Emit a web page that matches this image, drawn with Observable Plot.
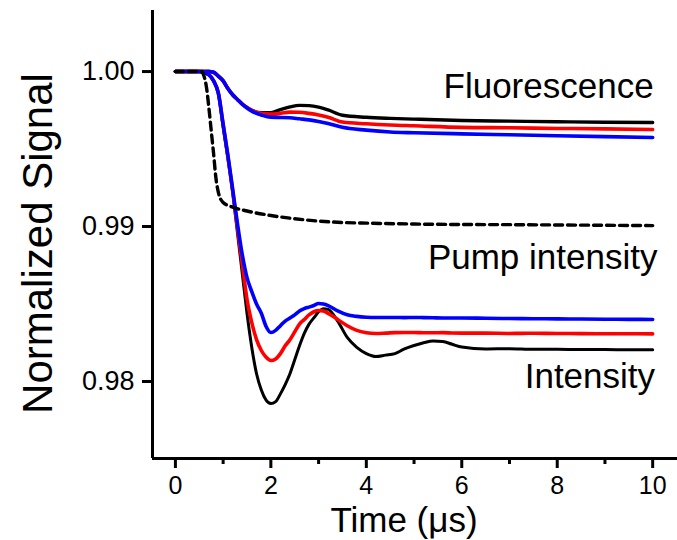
<!DOCTYPE html>
<html>
<head>
<meta charset="utf-8">
<script src="https://cdn.jsdelivr.net/npm/d3@7"></script>
<script src="https://cdn.jsdelivr.net/npm/@observablehq/plot@0.6"></script>
<style>
  html, body { margin: 0; padding: 0; background: #fff; }
  #chart svg { display: block; }
</style>
</head>
<body>
<div id="chart"></div>
<script>
// ---- Intensity traces (shared time grid, µs) ----
const intensityTime = [0, 0.5, 0.7, 0.8, 0.9, 1.0, 1.1, 1.2, 1.3, 1.4, 1.5, 1.6, 1.7, 1.8, 1.9, 2.0, 2.1, 2.2, 2.3, 2.4, 2.5, 2.6, 2.7, 2.8, 2.9, 3.0, 3.1, 3.2, 3.4, 3.6, 3.8, 4.0, 4.2, 4.4, 4.6, 4.8, 5.0, 5.2, 5.4, 5.6, 5.8, 6.0, 6.5, 7.0, 7.5, 8.0, 8.5, 9.0, 9.5, 10.0];
const intensityBlack = [1.0, 1.0, 0.9998, 0.9994, 0.9986, 0.9964, 0.9944, 0.9922, 0.9896, 0.9870, 0.9844, 0.9822, 0.9805, 0.97945, 0.9788, 0.97858, 0.9787, 0.9792, 0.9798, 0.9805, 0.9814, 0.9823, 0.9831, 0.9837, 0.9841, 0.9845, 0.9847, 0.98465, 0.9839, 0.98284, 0.9822, 0.9818, 0.98161, 0.9817, 0.9818, 0.9821, 0.98232, 0.9825, 0.98262, 0.98258, 0.9824, 0.98222, 0.9821, 0.98212, 0.98208, 0.98208, 0.98206, 0.98206, 0.98205, 0.98205];
const intensityRed = [1.0, 1.0, 0.9998, 0.9994, 0.9986, 0.9966, 0.9945, 0.9923, 0.9899, 0.9876, 0.9853, 0.9838, 0.9827, 0.9820, 0.98157, 0.98135, 0.98145, 0.9818, 0.9823, 0.9827, 0.9832, 0.9837, 0.9840, 0.9843, 0.9845, 0.98458, 0.98455, 0.9844, 0.9840, 0.9836, 0.9833, 0.98315, 0.9831, 0.98312, 0.98315, 0.98316, 0.98316, 0.98314, 0.98314, 0.98315, 0.98313, 0.98312, 0.98312, 0.9831, 0.98311, 0.9831, 0.98309, 0.98308, 0.98308, 0.98307];
const intensityBlue = [1.0, 1.0, 0.9998, 0.9994, 0.9986, 0.9966, 0.9946, 0.9924, 0.9902, 0.9882, 0.9867, 0.9858, 0.9850, 0.9844, 0.98355, 0.98316, 0.9833, 0.9836, 0.9839, 0.9841, 0.9843, 0.98455, 0.9847, 0.9848, 0.9849, 0.98503, 0.985, 0.9849, 0.98455, 0.9843, 0.9842, 0.98415, 0.98413, 0.98413, 0.98413, 0.98412, 0.98413, 0.98412, 0.98411, 0.9841, 0.9841, 0.9841, 0.98408, 0.98406, 0.98405, 0.98404, 0.98403, 0.98402, 0.98401, 0.984];

// ---- Fluorescence traces ----
const fluorTime = [0, 0.6, 0.7, 0.8, 0.9, 1.0, 1.1, 1.2, 1.3, 1.4, 1.5, 1.6, 1.8, 2.0, 2.2, 2.4, 2.6, 2.8, 3.0, 3.2, 3.5, 4.0, 4.5, 5.0, 6.0, 7.0, 8.0, 9.0, 10.0];
const fluorBlack = [1.0, 1.0, 1.0, 0.99995, 0.9997, 0.9994, 0.9989, 0.9985, 0.9982, 0.9979, 0.99768, 0.9975, 0.99735, 0.99735, 0.99755, 0.99772, 0.99782, 0.9978, 0.9977, 0.99752, 0.99718, 0.99705, 0.99698, 0.99693, 0.99684, 0.9968, 0.99676, 0.99673, 0.99671];
const fluorRed = [1.0, 1.0, 1.0, 0.99995, 0.9997, 0.9994, 0.9989, 0.9985, 0.9982, 0.9979, 0.99768, 0.9975, 0.9973, 0.99725, 0.9973, 0.99738, 0.99737, 0.9973, 0.9972, 0.99705, 0.99674, 0.99663, 0.99655, 0.9965, 0.9964, 0.99637, 0.99633, 0.9963, 0.99626];
const fluorBlue = [1.0, 1.0, 1.0, 0.99995, 0.9997, 0.9994, 0.9989, 0.9985, 0.9982, 0.9979, 0.99765, 0.99745, 0.9972, 0.99705, 0.99704, 0.99702, 0.99695, 0.99688, 0.99678, 0.99665, 0.9964, 0.99622, 0.9961, 0.99605, 0.99598, 0.99592, 0.99586, 0.9958, 0.99574];

// ---- Pump intensity (dashed) ----
const pumpTime = [0, 0.55, 0.6, 0.65, 0.7, 0.75, 0.8, 0.85, 0.9, 1.0, 1.2, 1.5, 2.0, 2.5, 3.0, 3.5, 4.0, 5.0, 6.0, 7.0, 8.0, 9.0, 10.0];
const pumpValue = [1.0, 1.0, 0.9997, 0.9990, 0.9977, 0.9962, 0.9947, 0.9931, 0.9922, 0.99155, 0.99125, 0.991, 0.99071, 0.9905, 0.99035, 0.99026, 0.99022, 0.99016, 0.99013, 0.99012, 0.9901, 0.99008, 0.99006];

// ---- Axis ticks & labels ----
const xMajorTicks = [0, 2, 4, 6, 8, 10];
const xMinorTicks = [1, 3, 5, 7, 9];
const yTicks = [0.98, 0.99, 1.00];
const annotations = [
  {text: "Fluorescence", x: 10.02, y: 0.99832},
  {text: "Pump intensity", x: 10.1, y: 0.98723},
  {text: "Intensity", x: 10.05, y: 0.97961}
];

const toRows = (t, v) => t.map((x, i) => ({x, y: v[i]}));
const xDomain = [-0.48, 10.52];
const yDomain = [0.97503, 1.00394];
const font = "'Liberation Sans', Arial, Helvetica, sans-serif";

const lineOpts = (stroke, w) => ({x: "x", y: "y", stroke, strokeWidth: w, curve: "monotone-x", strokeLinejoin: "round", strokeLinecap: "round"});

const chart = Plot.plot({
  width: 677,
  height: 540,
  marginLeft: 152,
  marginRight: 0,
  marginTop: 10,
  marginBottom: 82,
  style: {fontFamily: font, background: "#fff", color: "#000"},
  x: {domain: xDomain, axis: null},
  y: {domain: yDomain, axis: null},
  marks: [
    // traces
    Plot.line(toRows(fluorTime, fluorBlack), lineOpts("#000", 3.4)),
    Plot.line(toRows(fluorTime, fluorRed), lineOpts("#ff0000", 3.6)),
    Plot.line(toRows(fluorTime, fluorBlue), lineOpts("#0000ff", 3.6)),
    Plot.line(toRows(intensityTime, intensityBlack), lineOpts("#000", 3)),
    Plot.line(toRows(intensityTime, intensityRed), lineOpts("#ff0000", 3.6)),
    Plot.line(toRows(intensityTime, intensityBlue), lineOpts("#0000ff", 3.6)),
    Plot.line(toRows(pumpTime, pumpValue), {x: "x", y: "y", stroke: "#000", strokeWidth: 3.4, strokeDasharray: "8,5", curve: "monotone-x"}),
    // axes lines
    Plot.ruleX([xDomain[0]], {stroke: "#000", strokeWidth: 3}),
    Plot.ruleY([yDomain[0]], {stroke: "#000", strokeWidth: 3}),
    // x axis ticks
    Plot.axisX({ticks: xMajorTicks, tickSize: 10, tickPadding: 8, strokeWidth: 3, fontSize: 25, label: null, tickFormat: d3.format("d")}),
    Plot.axisX({ticks: xMinorTicks, tickSize: 6, strokeWidth: 3, text: null, label: null}),
    // y axis ticks
    Plot.axisY({ticks: yTicks, tickSize: 10, tickPadding: 8, strokeWidth: 3, fontSize: 27, label: null, tickFormat: d3.format(".2f")}),
    // axis titles
    Plot.text(["Normalized Signal"], {frameAnchor: "left", dx: -101, dy: 9, rotate: -90, lineAnchor: "bottom", textAnchor: "middle", fontSize: 42, fill: "#000"}),
    Plot.text(["Time (μs)"], {frameAnchor: "bottom", dx: -11, dy: 73, lineAnchor: "bottom", textAnchor: "middle", fontSize: 35, fill: "#000"}),
    // annotations
    Plot.text(annotations, {x: "x", y: "y", text: "text", textAnchor: "end", lineAnchor: "bottom", fontSize: 35, fill: "#000"})
  ]
});
document.getElementById("chart").appendChild(chart);
</script>
</body>
</html>
